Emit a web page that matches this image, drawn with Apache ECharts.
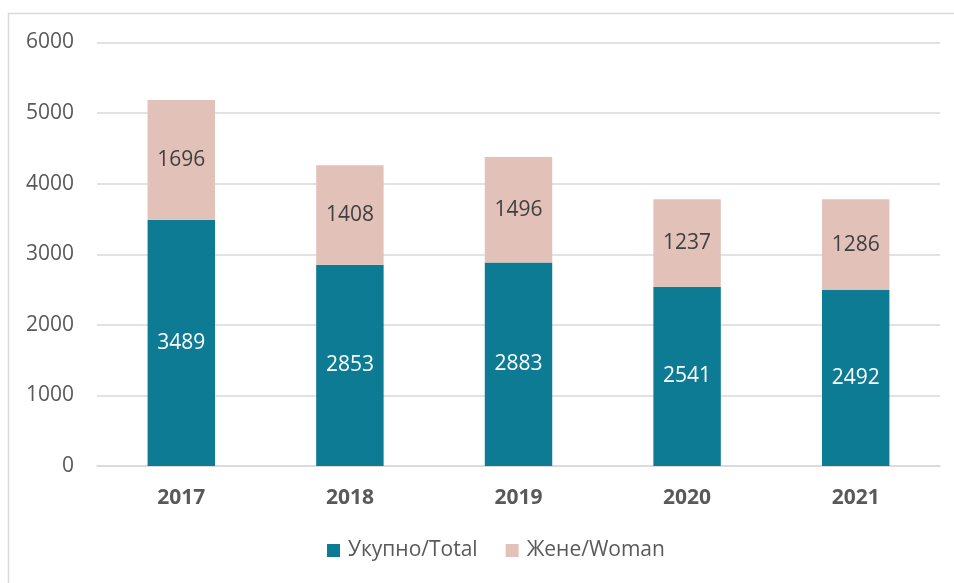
<!DOCTYPE html>
<html><head><meta charset="utf-8">
<script src="https://cdn.jsdelivr.net/npm/echarts@6/dist/echarts.min.js"></script>
<style>html,body{margin:0;padding:0;background:#fff}#c{width:954px;height:583px}</style>
</head><body><div id="c"></div>
<script>
const categories = ['2017','2018','2019','2020','2021'];
const totalValues = [3489, 2853, 2883, 2541, 2492];
const womanValues = [1696, 1408, 1496, 1237, 1286];
const seriesNames = ['Укупно/Total', 'Жене/Woman'];
const yTicks = {min: 0, max: 6000, interval: 1000};

const font = '"Open Sans", "Noto Sans", sans-serif';
const chart = echarts.init(document.getElementById('c'));
chart.setOption({
  animation: false,
  backgroundColor: '#fff',
  graphic: [{type: 'rect', shape: {x: 8.5, y: 13.5, width: 960, height: 600}, style: {fill: 'none', stroke: '#d9d9d9', lineWidth: 1.5}, silent: true}],
  grid: {left: 97, right: 14, top: 42.5, bottom: 117},
  legend: {
    bottom: 17, left: 322, itemWidth: 13, itemHeight: 13, itemGap: 28,
    icon: 'rect',
    textStyle: {fontFamily: font, fontSize: 21, color: '#595959', padding: [0, 0, 0, 3]},
    data: seriesNames
  },
  xAxis: {
    type: 'category', data: categories,
    axisLine: {lineStyle: {color: '#d9d9d9', width: 1.5}},
    axisTick: {show: false},
    axisLabel: {fontFamily: font, fontSize: 21, fontWeight: 'bold', color: '#595959', margin: 22}
  },
  yAxis: {
    type: 'value', min: yTicks.min, max: yTicks.max, interval: yTicks.interval,
    axisLine: {show: false}, axisTick: {show: false},
    splitLine: {lineStyle: {color: '#d9d9d9', width: 1.5}},
    axisLabel: {fontFamily: font, fontSize: 21, color: '#595959', margin: 23, formatter: v => String(v)}
  },
  series: [
    {name: seriesNames[0], type: 'bar', stack: 's', data: totalValues, barCategoryGap: '60%',
     itemStyle: {color: '#0e7b94'},
     label: {show: true, position: 'inside', fontFamily: font, fontSize: 21, color: '#ffffff'}},
    {name: seriesNames[1], type: 'bar', stack: 's', data: womanValues, barCategoryGap: '60%',
     itemStyle: {color: '#e2c1b8'},
     label: {show: true, position: 'inside', fontFamily: font, fontSize: 21, color: '#404040'}}
  ]
});
</script></body></html>
